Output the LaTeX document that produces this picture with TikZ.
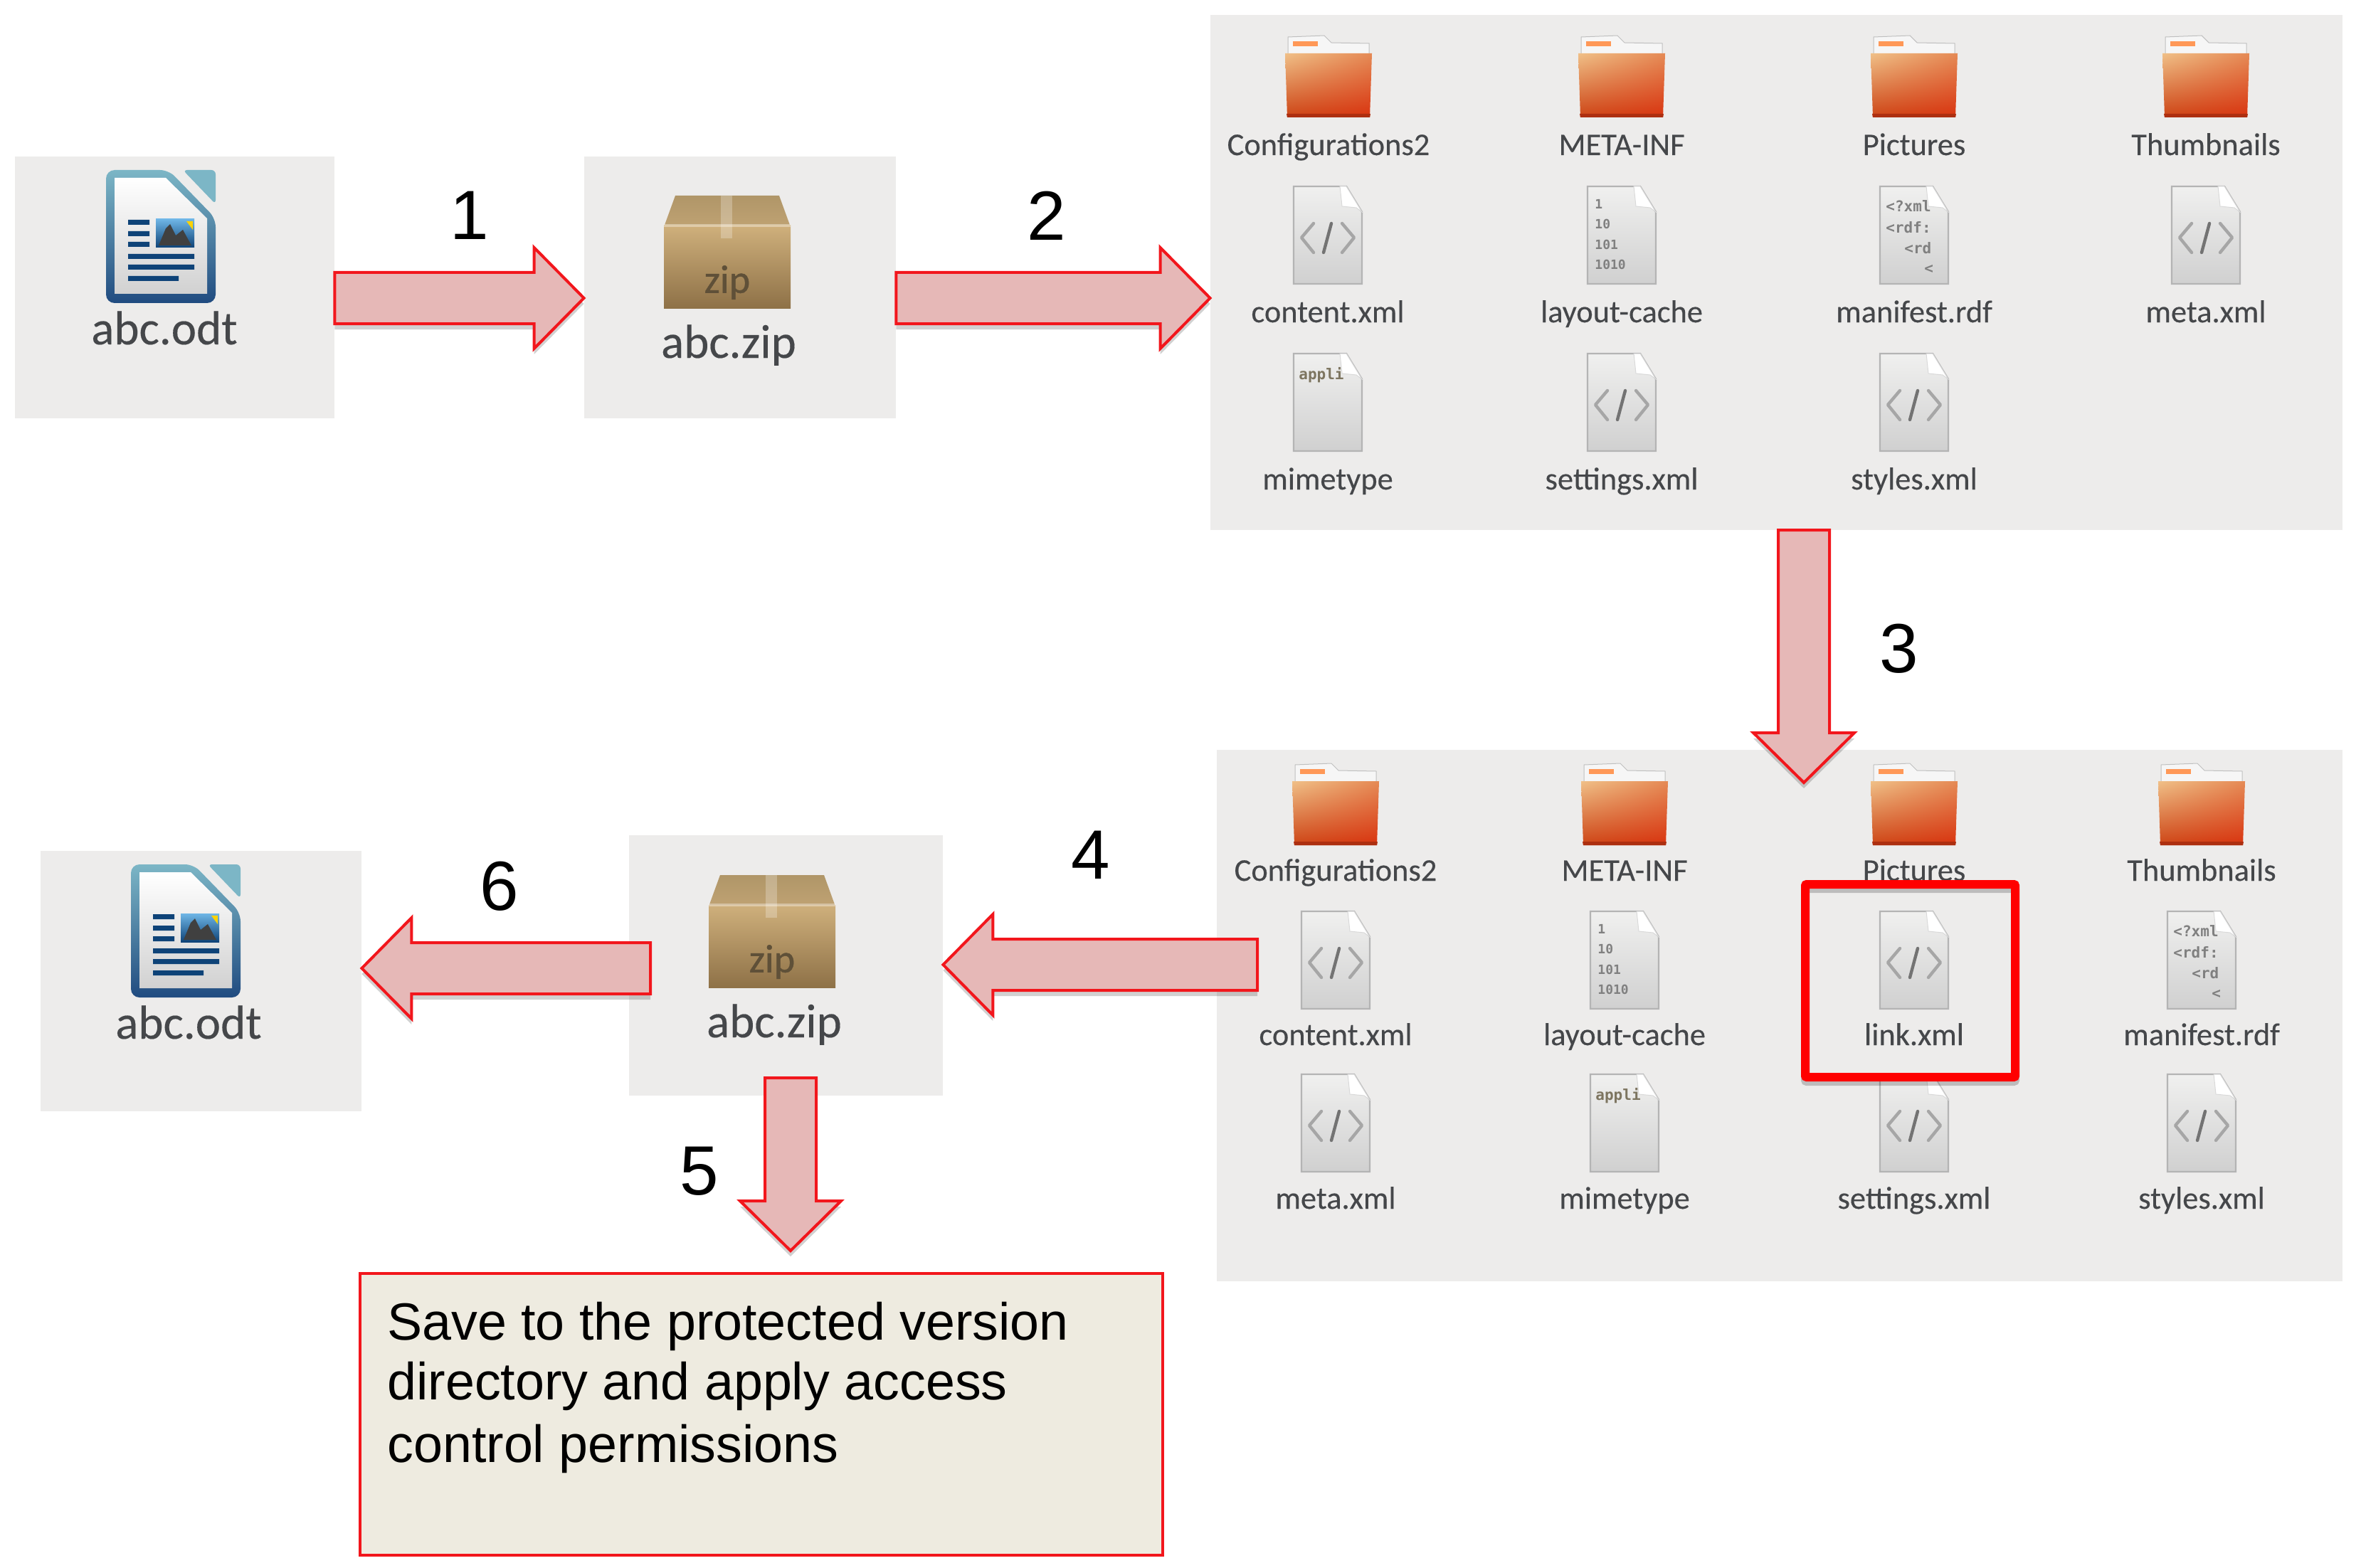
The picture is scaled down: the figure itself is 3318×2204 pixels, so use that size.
\documentclass[tikz,border=0pt]{standalone}
\usepackage{fontspec}
\setmainfont{Liberation Sans}
\newfontfamily\lblfont{Carlito}[FakeBold=0.25]
\newfontfamily\zipfont{Carlito}[FakeBold=0.8]
\newfontfamily\monof{DejaVu Sans Mono}
\usetikzlibrary{calc,fit,shadows,shadings}
\definecolor{panelc}{HTML}{EDECEB}
\definecolor{arrowf}{HTML}{E6B8B7}
\definecolor{arrowd}{HTML}{F2161C}
\definecolor{notef}{HTML}{EEEBE0}
\definecolor{glyph}{HTML}{A6A6A6}
\definecolor{labelc}{HTML}{45474A}
\definecolor{mimec}{HTML}{7D7560}
\tikzset{
  panel/.style={fill=panelc,draw=none,inner sep=0pt},
  lbl/.style={font=\lblfont\fontsize{22.2}{26}\selectfont,text=labelc,inner sep=0pt,anchor=base},
  biglbl/.style={font=\lblfont\fontsize{33.5}{36}\selectfont,text=labelc,inner sep=0pt,anchor=base},
  num/.style={font=\fontsize{49}{55}\selectfont,inner sep=0pt,anchor=center},
  blockarrow/.style={fill=arrowf,draw=arrowd,line width=2pt,miter limit=8,
     drop shadow={shadow xshift=0pt,shadow yshift=-4pt,opacity=.18,fill=black}},
  mono/.style={font=\monof\bfseries\fontsize{#1}{#1}\selectfont,inner sep=0pt,text=gray},
  folder/.pic={
    \path[fill=white!93!gray,draw=black!25,line width=.5pt]
      (-57,26) -- (-57,2) -- (-6,0) -- (4,10) -- (57,11) -- (57,26) -- cycle;
    \fill[orange!60!white!85!red] (-50,8) rectangle (-15,15);
    \path[shade,upper left=folderUL,upper right=folderUR,lower left=folderLL,lower right=folderLR]
      (-61,25) -- (61,25) -- (58,115) -- (-58,115) -- cycle;
    \fill[folderD] (-59,110) -- (59,110) -- (58,115) -- (-58,115) -- cycle;
  },
  docbase/.pic={
    \path[top color=docT,bottom color=docB,draw=docE,line width=1.2pt]
      (-48,0) -- (26,0) -- (48,36) -- (48,137) -- (-48,137) -- cycle;
    \path[fill=white,draw=black!15,line width=.5pt] (17,0) -- (26,0) -- (48,36) -- (40,30) -- (20,28) -- cycle;
  },
  xmlfile/.pic={
    \pic {docbase};
    \draw[glyph,line width=2.2pt,line join=round,line cap=round] (-20,52) -- (-37,72) -- (-20,93);
    \draw[glyph,line width=2.2pt,line join=round,line cap=round] (20,52) -- (37,72) -- (20,93);
    \draw[black!55,line width=2.2pt,line cap=round] (5,52) -- (-6,93);
  },
  binfile/.pic={
    \pic {docbase};
    \node[mono=9,anchor=west] (a) at (-38,25) {1};
    \node[mono=9,anchor=west] (b) at (-38,53) {10};
    \node[mono=9,anchor=west] (c) at (-38,82) {101};
    \node[mono=9,anchor=west] (d) at (-38,110) {1010};
  },
  rdffile/.pic={
    \pic {docbase};
    \node[mono=10.5,anchor=west] (a) at (-40,28) {<?xml};
    \node[mono=10.5,anchor=west] (b) at (-40,58) {<rdf:};
    \node[mono=10.5,anchor=west] (c) at (-14,87) {<rd};
    \node[mono=10.5,anchor=west] (d) at (14,116) {<};
  },
  mimefile/.pic={
    \pic {docbase};
    \node[mono=10.5,anchor=west,text=mimec] (a) at (-41,30) {appli};
  },
  odt/.pic={
    \path[top color=odtT,bottom color=odtB,rounded corners=6pt]
      (0,0) -- (88,0) -- (154,68) -- (154,187) -- (0,187) -- cycle;
    \path[fill=odtT,rounded corners=3pt] (108,0) -- (154,0) -- (154,48) -- cycle;
    \path[top color=white,bottom color=black!18] (12,11) -- (84,11) -- (142,68) -- (142,174) -- (12,174) -- cycle;
    \fill[odtL] (31,70) rectangle (61,77) (31,86) rectangle (61,93) (31,101) rectangle (61,108);
    \fill[odtL] (31,118) rectangle (124,125) (31,133) rectangle (124,140) (31,149) rectangle (102,156);
    \path[top color=odtSky,bottom color=odtL] (70,69) rectangle (124,109);
    \fill[black!75] (74,106) -- (84,82) -- (90,76) -- (98,92) -- (108,84) -- (120,106) -- cycle;
    \fill[yellow!70!orange] (113,72) -- (122,72) -- (122,84) -- cycle;
  },
  zipbox/.pic={
    \path[top color=zipL1,bottom color=zipL2] (16,0) -- (162,0) -- (178,44) -- (0,44) -- cycle;
    \path[top color=zipB1,bottom color=zipB2] (0,42) rectangle (178,158);
    \fill[white,opacity=.35] (0,40) rectangle (178,44);
    \fill[white,opacity=.25] (80,0) rectangle (96,60);
    \node[font=\zipfont\fontsize{28}{30}\selectfont,text=zipT,inner sep=0pt] (t) at (89,122) {zip};
  }
}
\definecolor{folderUL}{HTML}{F0C088}
\definecolor{folderUR}{HTML}{E58A55}
\definecolor{folderLL}{HTML}{CC4515}
\definecolor{folderLR}{HTML}{D9330F}
\definecolor{folderD}{HTML}{AD2F10}
\definecolor{docT}{HTML}{F0F0EF}
\definecolor{docB}{HTML}{D0D0D0}
\definecolor{docE}{HTML}{B4B4B4}
\definecolor{odtT}{HTML}{7CB6C6}
\definecolor{odtB}{HTML}{204B80}
\definecolor{odtL}{HTML}{0E4378}
\definecolor{odtSky}{HTML}{6FB6E6}
\definecolor{zipL1}{HTML}{B09668}
\definecolor{zipL2}{HTML}{BFA273}
\definecolor{zipB1}{HTML}{CFB07C}
\definecolor{zipB2}{HTML}{8E7147}
\definecolor{zipT}{HTML}{5F5038}
\newcommand{\bigarrow}[2]{%
  \path[blockarrow]
    ($(#1)!18pt!90:(#2)$) --
    ($(#2)!35pt!(#1)!18pt!90:(#2)$) --
    ($(#2)!35pt!(#1)!35.5pt!90:(#2)$) --
    (#2) --
    ($(#2)!35pt!(#1)!35.5pt!-90:(#2)$) --
    ($(#2)!35pt!(#1)!18pt!-90:(#2)$) --
    ($(#1)!18pt!-90:(#2)$) -- cycle;}
\newcommand{\entry}[6]{%
  \pic (i#1) at (#2,#3) {#4};
  \node[lbl] (l#1) at (#2,#5) {#6};}
\begin{document}
\begin{tikzpicture}[x=.5pt,y=-.5pt]
\useasboundingbox (0,0) rectangle (3318,2204);
% backgrounds
\node[panel,fit={(21,220)(470,588)}] (odtA) {};
\node[panel,fit={(821,220)(1259,588)}] (zipA) {};
\node[panel,fit={(1701,21)(3292,745)}] (top) {};
\node[panel,fit={(1710,1054)(3292,1801)}] (bot) {};
\node[panel,fit={(57,1196)(508,1562)}] (odtB) {};
\node[panel,fit={(884,1174)(1325,1540)}] (zipB) {};
% left icons
\pic (oa) at (149,239) {odt};
\node[biglbl] (loa) at (231,484) {abc.odt};
\pic (za) at (933,275) {zipbox};
\node[biglbl] (lza) at (1024,503) {abc.zip};
\pic (ob) at (184,1215) {odt};
\node[biglbl] (lob) at (265,1460) {abc.odt};
\pic (zb) at (996,1230) {zipbox};
\node[biglbl] (lzb) at (1088,1458) {abc.zip};
% top panel
\entry{a1}{1867}{50}{folder}{218}{Configurations2}
\entry{a2}{2279}{50}{folder}{218}{META-INF}
\entry{a3}{2690}{50}{folder}{218}{Pictures}
\entry{a4}{3100}{50}{folder}{218}{Thumbnails}
\entry{a5}{1866}{262}{xmlfile}{453}{content.xml}
\entry{a6}{2279}{262}{binfile}{453}{layout-cache}
\entry{a7}{2690}{262}{rdffile}{453}{manifest.rdf}
\entry{a8}{3100}{262}{xmlfile}{453}{meta.xml}
\entry{a9}{1866}{497}{mimefile}{688}{mimetype}
\entry{a10}{2279}{497}{xmlfile}{688}{settings.xml}
\entry{a11}{2690}{497}{xmlfile}{688}{styles.xml}
% bottom panel
\entry{b1}{1877}{1073}{folder}{1238}{Configurations2}
\entry{b2}{2283}{1073}{folder}{1238}{META-INF}
\entry{b3}{2690}{1073}{folder}{1238}{Pictures}
\entry{b4}{3094}{1073}{folder}{1238}{Thumbnails}
\entry{b5}{1877}{1281}{xmlfile}{1469}{content.xml}
\entry{b6}{2283}{1281}{binfile}{1469}{layout-cache}
\entry{b7}{2690}{1281}{xmlfile}{1469}{link.xml}
\entry{b8}{3094}{1281}{rdffile}{1469}{manifest.rdf}
\entry{b9}{1877}{1510}{xmlfile}{1699}{meta.xml}
\entry{b10}{2283}{1510}{mimefile}{1699}{mimetype}
\entry{b11}{2690}{1510}{xmlfile}{1699}{settings.xml}
\entry{b12}{3094}{1510}{xmlfile}{1699}{styles.xml}
% highlight
\node[fit={(2537,1243)(2832,1514)},inner sep=0pt,draw=red,line width=6pt,rounded corners=1pt,
  drop shadow={shadow xshift=0pt,shadow yshift=-3pt,opacity=.2,fill=none,draw=black}] (hl) {};
% note
\node[fit={(506,1790)(1634,2186)},inner sep=0pt,fill=notef,draw=arrowd,line width=2pt] (note) {};
\node[anchor=north west,inner sep=0pt,align=left,font=\fontsize{36.8}{42}\selectfont] (notetext) at (544,1830)
  {Save to the protected version\\directory and apply access\\[2pt]control permissions};
% arrows
\coordinate (s1) at (odtA.east |- 0,419); \coordinate (e1) at (zipA.west |- 0,419);
\bigarrow{s1}{e1}
\coordinate (s2) at (zipA.east |- 0,419); \coordinate (e2) at (top.west |- 0,419);
\bigarrow{s2}{e2}
\coordinate (s3) at (2535,745); \coordinate (e3) at (2535,1100);
\bigarrow{s3}{e3}
\coordinate (s4) at (1767,1356); \coordinate (e4) at (zipB.east |- 0,1356);
\bigarrow{s4}{e4}
\coordinate (s5) at (1111,1515); \coordinate (e5) at (1111,1758);
\bigarrow{s5}{e5}
\coordinate (s6) at (914,1361); \coordinate (e6) at (odtB.east |- 0,1361);
\bigarrow{s6}{e6}
% numbers
\node[num] (n1) at (660,303) {1};
\node[num] (n2) at (1471,303) {2};
\node[num] (n3) at (2669,912) {3};
\node[num] (n4) at (1533,1202) {4};
\node[num] (n5) at (983,1646) {5};
\node[num] (n6) at (702,1246) {6};
\end{tikzpicture}
\end{document}
